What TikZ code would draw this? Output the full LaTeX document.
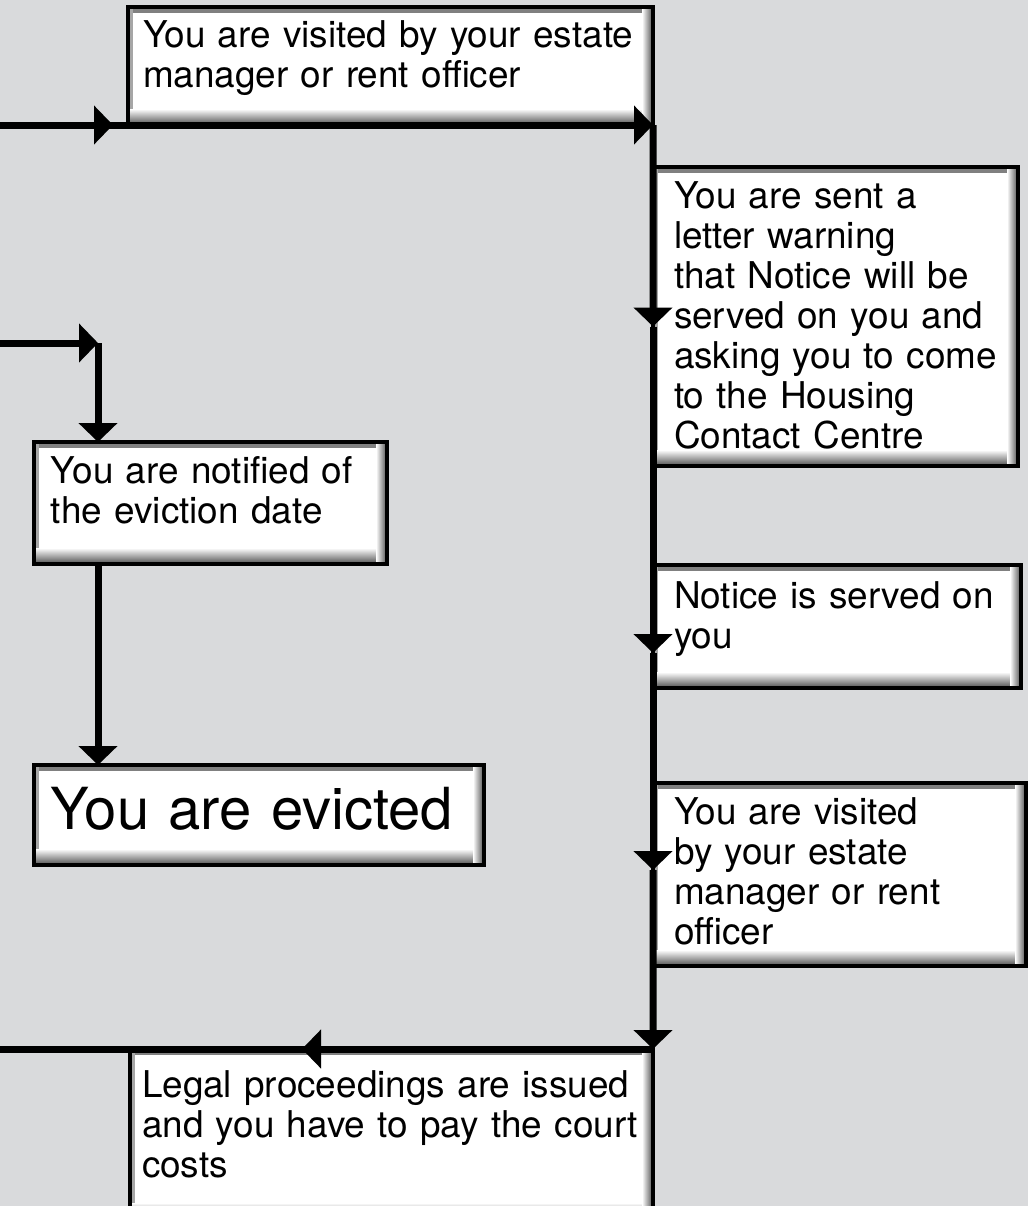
\documentclass[tikz,border=0pt]{standalone}
\usepackage{fontspec}
\setmainfont{TeX Gyre Heros}
\usetikzlibrary{arrows.meta, decorations.markings}

\definecolor{pagegray}{RGB}{217,218,220}
\definecolor{bevelgray}{RGB}{128,128,128}

\newcommand{\boxfont}{\fontsize{21pt}{22.8pt}\selectfont}
\newcommand{\bigfont}{\fontsize{33pt}{38pt}\selectfont}

\tikzset{
  >={Triangle[length=0.38cm, width=0.76cm]},
  stepbox/.style={anchor=north west, draw=black, line width=2.5pt, fill=white,
    outer sep=0pt, inner xsep=0.34cm, inner ysep=0pt, align=left, font=\boxfont,
    path picture={
      \fill[bevelgray] (path picture bounding box.north west) rectangle ([yshift=-0.12cm]path picture bounding box.north east);
      \fill[bevelgray!70] (path picture bounding box.north west) rectangle ([xshift=0.1cm]path picture bounding box.south west);
      \shade[top color=white, bottom color=black!70] ([yshift=0.32cm]path picture bounding box.south west) rectangle (path picture bounding box.south east);
      \shade[left color=white, right color=black!70] ([xshift=-0.22cm]path picture bounding box.north east) rectangle (path picture bounding box.south east);
    }},
  flow/.style={line width=0.14cm, black},
  midarrow/.style={postaction={decorate, decoration={markings, mark=at position #1 with {\arrow{>}}}}}
}

\begin{document}
\begin{tikzpicture}
    % Page
    \useasboundingbox (0,0) rectangle (20.56,-24.12);
    \fill[pagegray] (0,0) rectangle (20.56,-24.12);

    % Right-hand column
    \node[stepbox, inner xsep=0.3cm, text width=9.9cm, text height=0.80cm, text depth=1.56cm] (visitA) at (2.56,-0.14)
        {You are visited by your estate\\manager or rent officer};
    \node[stepbox, inner xsep=0.42cm, text width=6.46cm, text height=0.82cm, text depth=5.16cm] (letter) at (13.06,-3.34)
        {You are sent a\\letter warning\\that Notice will be\\served on you and\\asking you to come\\to the Housing\\Contact Centre};
    \node[stepbox, inner xsep=0.42cm, text width=6.52cm, text height=0.86cm, text depth=1.60cm] (notice) at (13.06,-11.30)
        {Notice is served on\\you};
    \node[stepbox, inner xsep=0.42cm, text width=6.62cm, text height=0.82cm, text depth=2.84cm] (visitB) at (13.06,-15.66)
        {You are visited\\by your estate\\manager or rent\\officer};
    \node[stepbox, inner xsep=0.24cm, text width=9.98cm, text height=0.96cm, text depth=2.44cm] (legal) at (2.60,-20.98)
        {Legal proceedings are issued\\and you have to pay the court\\costs};

    % Left-hand column
    \node[stepbox, text width=6.38cm, text height=0.82cm, text depth=1.62cm] (notified) at (0.68,-8.84)
        {You are notified of\\the eviction date};
    \node[stepbox, font=\bigfont, text width=8.32cm, text height=1.28cm, text depth=0.72cm] (evicted) at (0.68,-15.30)
        {You are evicted};

    % Free ends
    \coordinate (inA) at (0,-2.50);
    \coordinate (inB) at (0,-6.86);
    \coordinate (bend) at (1.96,-6.86);
    \coordinate (outL) at (0,-20.98);

    % Main flow
    \draw[flow, midarrow=2.26cm, ->] (inA) -- (visitA.south east);
    \draw[flow, ->] (visitA.south east) -- ([yshift=-0.2cm]letter.west);
    \draw[flow, ->] ([yshift=-0.2cm]letter.west) -- ([yshift=-0.53cm]notice.west);
    \draw[flow, ->] ([yshift=-0.53cm]notice.west) -- ([yshift=0.09cm]visitB.west);
    \draw[flow, ->] ([yshift=0.09cm]visitB.west) -- (legal.north east);
    \draw[flow, midarrow=7.02cm] (legal.north east) -- (outL);

    % Eviction branch
    \draw[flow, ->] (inB) -- (bend);
    \draw[flow, ->] (bend) -- (bend |- notified.north);
    \draw[flow, ->] (bend |- notified.south) -- (bend |- evicted.north);
\end{tikzpicture}
\end{document}
